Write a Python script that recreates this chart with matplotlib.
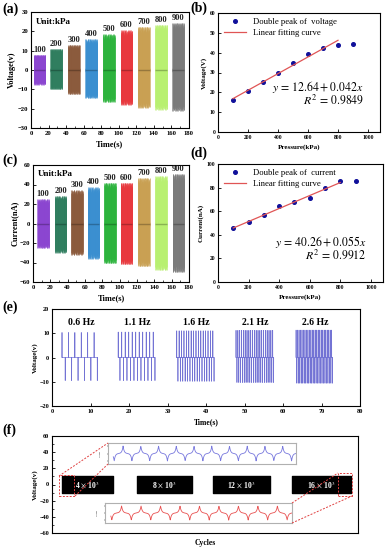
import numpy as np
import matplotlib
matplotlib.use("Agg")
import matplotlib.pyplot as plt
from matplotlib.lines import Line2D
from matplotlib.patches import Rectangle

plt.rcParams['font.family'] = ['Liberation Serif', 'DejaVu Serif']
plt.rcParams['mathtext.fontset'] = 'stix'

W, H = 386, 550

# ---- data ----
pressures = [100, 200, 300, 400, 500, 600, 700, 800, 900]
group_colors = ['#8b45d0', '#2e7d5e', '#8b5a3c', '#3a8fd0', '#2bb33c',
                '#e8383d', '#c9a052', '#b8f070', '#7a7a7a']

# (a) voltage vs time blocks
a_start = [3, 22, 42, 62, 82, 102, 121.5, 141.5, 161]
a_upper = [8, 11, 13, 16, 18.5, 20.5, 22.5, 23.5, 24.5]
a_lower = [-7.5, -10, -12.5, -14.5, -16.5, -18, -19.5, -20.5, -21]

# (c) current vs time blocks
c_start = [5, 25, 44, 63, 82, 101, 121, 141, 161]
c_upper = [25, 28, 34, 37, 42, 42, 47, 49, 51]
c_lower = [-25, -30, -32, -36, -41, -42, -44, -48, -50]

# (b) double peak voltage
b_volt = [16, 20.5, 25.2, 30, 35, 39.5, 42.5, 44, 44.5]
b_fit = (12.64, 0.042)
# (d) double peak current
d_curr = [46, 51, 57, 64, 67.5, 71, 80, 85.5, 86]
d_fit = (40.26, 0.055)

# (e) frequency response
freqs = [0.6, 1.1, 1.6, 2.1, 2.6]
freq_start = [2.6, 17.2, 32.4, 47.8, 63.4]
freq_up = [10.3, 10.5, 11.0, 11.2, 11.3]
freq_down = [-9.5, -9.5, -9.8, -10.3, -10.6]

# (f) durability
cycle_labels = [r'4 $\times$ 10$^3$', r'8 $\times$ 10$^3$',
                r'12 $\times$ 10$^3$', r'16 $\times$ 10$^3$']
cycle_x0 = [3.3, 27.8, 52.6, 78.4]
cycle_x1 = [20.0, 45.8, 71.2, 97.7]
inset_cycles = [10, 9]

jag = [1.0, 0.93, 0.97, 0.88, 1.0, 0.95, 0.9, 0.98, 0.92, 0.99]


def box(x0, y0, x1, y1):
    return [x0 / W, 1 - y1 / H, (x1 - x0) / W, (y1 - y0) / H]


def style(ax, fs=4.8):
    ax.tick_params(direction='in', labelsize=fs, width=0.6, length=2, pad=2)
    ax.tick_params(which='minor', direction='in', width=0.5, length=1.2)
    for lab in ax.get_xticklabels() + ax.get_yticklabels():
        lab.set_fontweight('bold')
    for s in ax.spines.values():
        s.set_linewidth(0.8)


def blocks(ax, starts, upper, lower, off):
    for i, p in enumerate(pressures):
        t = np.linspace(starts[i], starts[i] + 13.5, 50)
        f = np.resize(jag, len(t))
        ax.vlines(t, np.array(lower[i]) * f, np.array(upper[i]) * f,
                  color=group_colors[i], lw=0.6, alpha=0.8)
        ax.hlines(0, starts[i], starts[i] + 13.5, color=group_colors[i], lw=2.5)
        ax.hlines(0, starts[i], starts[i] + 13.5, color='k', lw=1.0, alpha=0.25)
        ax.text(starts[i] + 6.75, upper[i] + off, str(p), ha='center',
                va='bottom', fontsize=6, fontweight='bold', color='#222222')


fig = plt.figure(figsize=(W / 100, H / 100), dpi=100)

# (a)
ax = fig.add_axes(box(31, 12, 189, 128))
blocks(ax, a_start, a_upper, a_lower, 0.5)
ax.set_xlim(0, 180)
ax.set_ylim(-30, 30)
ax.set_xticks(range(0, 181, 20))
ax.set_yticks(range(-30, 31, 10))
ax.set_xticks(range(10, 180, 20), minor=True)
ax.text(5, 27, 'Unit:kPa', fontsize=6.5, fontweight='bold', va='top')
ax.set_xlabel('Time(s)', fontsize=6, fontweight='bold', labelpad=3)
ax.set_ylabel('Voltage(v)', fontsize=6, fontweight='bold', labelpad=1)
style(ax)

# (c)
ax = fig.add_axes(box(33, 165, 189, 282))
blocks(ax, c_start, c_upper, c_lower, 1.0)
ax.set_xlim(0, 180)
ax.set_ylim(-60, 60)
ax.set_xticks(range(0, 181, 20))
ax.set_yticks(range(-60, 61, 20))
ax.set_xticks(range(10, 180, 20), minor=True)
ax.text(5, 55, 'Unit:kPa', fontsize=6.5, fontweight='bold', va='top')
ax.set_xlabel('Time(s)', fontsize=6, fontweight='bold', labelpad=3)
ax.set_ylabel('Current(nA)', fontsize=6, fontweight='bold', labelpad=1)
style(ax)


def fitpanel(rect, vals, fit, ymax, ystep, ylab, leg, eq, r2, ye, yr):
    ax = fig.add_axes(box(*rect))
    ax.plot(pressures, vals, 'o', color='#10109a', ms=2.6, label=leg)
    xx = np.array([pressures[0], pressures[7]])
    ax.plot(xx, fit[0] + fit[1] * xx, color='#e05555', lw=0.9,
            label='Linear fitting curve')
    ax.set_xlim(0, 1080)
    ax.set_ylim(0, ymax)
    ax.set_xticks(range(0, 1001, 200))
    ax.set_yticks(range(0, ymax + 1, ystep))
    ax.legend(loc='upper left', bbox_to_anchor=(0.0, 1.01), frameon=False,
              fontsize=6.2, handlelength=2.6, handletextpad=0.8,
              labelspacing=0.35, borderaxespad=0.3)
    ax.text(0.9, ye, eq, transform=ax.transAxes, ha='right', va='center', fontsize=8.5)
    ax.text(0.9, yr, r2, transform=ax.transAxes, ha='right', va='center', fontsize=8.5)
    ax.set_xlabel('Pressure(kPa)', fontsize=5, fontweight='bold', labelpad=3)
    ax.set_ylabel(ylab, fontsize=5, fontweight='bold', labelpad=2)
    style(ax, fs=4)
    return ax


fitpanel((218, 13, 380, 132), b_volt, b_fit, 60, 10, 'Voltage(V)',
         'Double peak of  voltage', r'$y\,=\,12.64+0.042x$', r'$R^2\,=\,0.9849$',
         0.38, 0.265)
fitpanel((218, 164, 383, 282), d_curr, d_fit, 100, 20, 'Current(nA)',
         'Double peak of  current', r'$y\,=\,40.26+0.055x$', r'$R^2\,=\,0.9912$',
         0.34, 0.225)

# (e)
ax = fig.add_axes(box(52, 309, 360, 406))
for i, f in enumerate(freqs):
    per = 1.0 / f
    n = int(9.6 / per) + 1
    xs, ys = [freq_start[i]], [0.0]
    for k in range(n):
        t = freq_start[i] + k * per
        e = 0.02
        xs += [t - e, t, t + e, t + per / 2 - e, t + per / 2, t + per / 2 + e]
        ys += [0, freq_up[i], 0, 0, freq_down[i], 0]
    ax.plot(xs, ys, color='#5a5acd', lw=0.5, alpha=0.85)
    ax.text(freq_start[i] + 5, 13.2, f'{f} Hz', ha='center', fontsize=7,
            fontweight='bold')
ax.set_xlim(0, 80)
ax.set_ylim(-20, 20)
ax.set_xticks(range(0, 81, 10))
ax.set_yticks(range(-20, 21, 10))
ax.set_xlabel('Time(s)', fontsize=5.5, fontweight='bold', labelpad=3)
ax.set_ylabel('Voltage(v)', fontsize=5, fontweight='bold', labelpad=1)
style(ax, fs=4.5)

# (f)
ax = fig.add_axes(box(52, 436, 358, 533))
for i, lab in enumerate(cycle_labels):
    ax.fill_between([cycle_x0[i], cycle_x1[i]], -10, 10, color='black')
    ax.text((cycle_x0[i] + cycle_x1[i]) / 2, 0, lab, color='white', ha='center',
            va='center', fontsize=5.5, fontweight='bold')
ax.add_patch(Rectangle((2.3, -14), 4.9, 26, fill=False, ec='#e04040', ls=(0, (2, 1.5)), lw=0.7))
ax.add_patch(Rectangle((93.5, -14), 4.5, 28, fill=False, ec='#e04040', ls=(0, (2, 1.5)), lw=0.7))
ax.set_xlim(0, 100)
ax.set_ylim(-60, 60)
ax.set_xticks([])
ax.set_yticks(range(-60, 61, 20))
ax.set_yticks(range(-50, 60, 20), minor=True)
ax.set_xlabel('Cycles', fontsize=5.5, fontweight='bold', labelpad=4)
ax.set_ylabel('Voltage(v)', fontsize=5, fontweight='bold', labelpad=1)
style(ax, fs=4.5)

for (x0, y0, x1, y1), col, nc in [((108, 443, 296, 464), '#7777dd', inset_cycles[0]),
                                   ((105, 503, 292, 523), '#e85050', inset_cycles[1])]:
    ia = fig.add_axes(box(x0, y0, x1, y1))
    tt = np.linspace(0, nc + 0.3, 1200)
    ph = tt % 1.0
    sig = np.exp(-np.abs(ph - 0.55) / 0.06) - np.exp(-np.abs(ph - 0.05) / 0.06) \
        - np.exp(-np.abs(ph - 1.05) / 0.06)
    ia.plot(tt, sig, color=col, lw=0.6)
    ia.set_xlim(-0.3, nc + 0.3)
    ia.set_ylim(-1.4, 1.4)
    ia.set_xticks([])
    ia.set_yticks([-1, 0, 1])
    ia.set_yticklabels(['', '', ''])
    ia.tick_params(length=1, width=0.3, direction='out')
    ia.set_ylabel('Voltage', fontsize=1.5, labelpad=0.5)
    for s in ia.spines.values():
        s.set_color('#b0b0b0')
        s.set_linewidth(0.8)

for (p0, p1) in [((59, 476), (108, 443)), ((75, 496), (108, 464)),
                 ((292, 503), (338, 473)), ((292, 523), (352, 496))]:
    fig.add_artist(Line2D([p0[0] / W, p1[0] / W], [1 - p0[1] / H, 1 - p1[1] / H],
                          color='#e04040', ls=(0, (2, 1.5)), lw=0.7, zorder=10))

# panel letters
for lab, x, y in [('(a)', 2, 9), ('(b)', 190, 8), ('(c)', 2, 160), ('(d)', 190, 153),
                  ('(e)', 2, 307), ('(f)', 2, 430)]:
    fig.text(x / W, 1 - y / H, lab, fontsize=10, fontweight='bold', va='center')

fig.savefig('out.png', dpi=100, facecolor='white')
